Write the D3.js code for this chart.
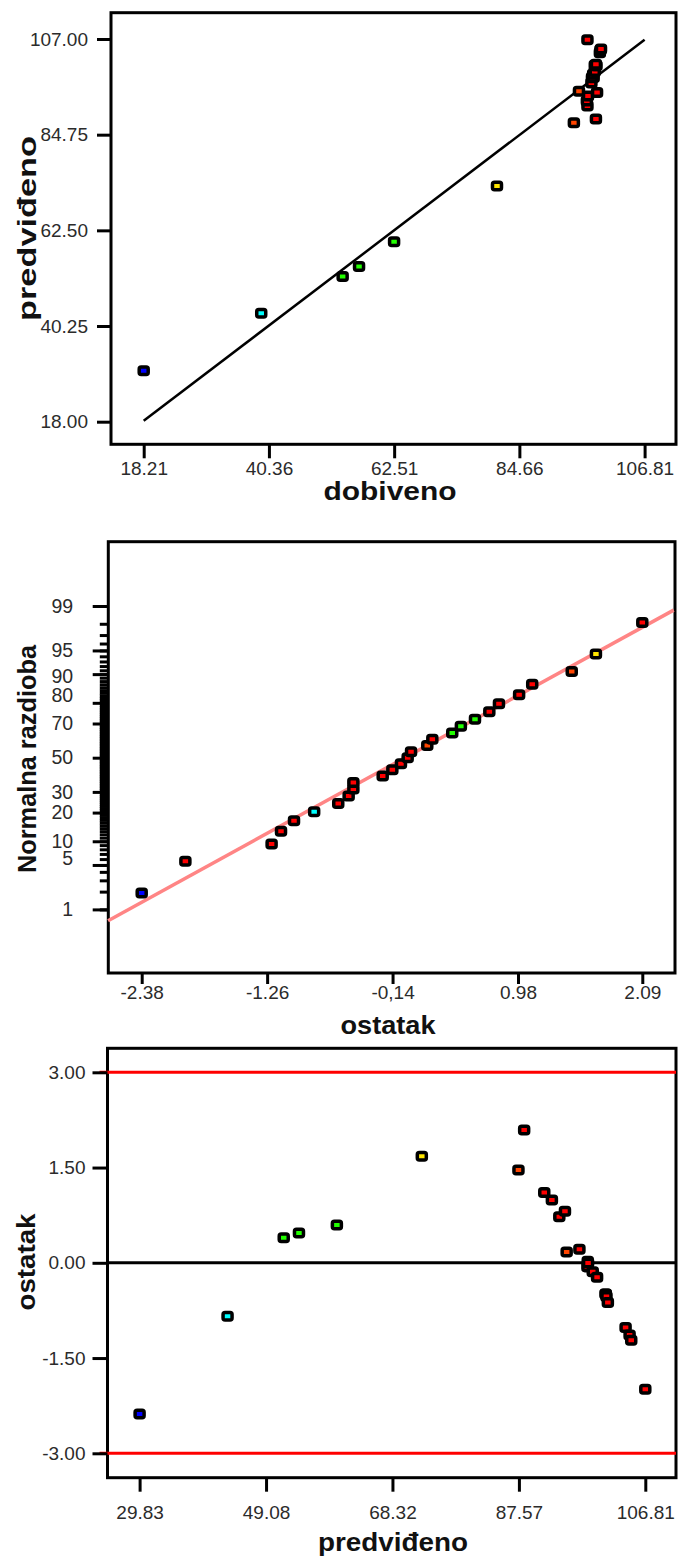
<!DOCTYPE html>
<html><head><meta charset="utf-8">
<script src="https://cdn.jsdelivr.net/npm/d3@7"></script>
<style>html,body{margin:0;padding:0;background:#fff;}svg{display:block;}</style>
</head><body>
<svg id="c" width="678" height="1557"></svg>
<script>
// ---------- DATA ----------
const pointColor = ["#0000ff","#00ffff","#22ff00","#22ff00","#22ff00","#ffe600","#ff4500","#ff0000","#ff0000","#ff0000","#ff0000","#ff0000","#ff4500","#ff0000","#ff0000","#ff0000","#ff0000","#ff0000","#ff0000","#ff0000","#ff0000","#ff0000","#ff0000","#ff0000","#ff0000","#ff0000","#ff0000"];
const actual     = [18.21,39.0,53.4,56.3,62.5,80.7,94.3,98.2,96.7,96.6,96.8,98.4,95.2,97.4,97.5,97.8,97.6,97.7,98.0,98.1,98.3,98.0,98.2,98.9,99.0,99.1,96.7];
const predicted  = [29.83,43.22,51.77,54.09,59.86,72.79,87.50,88.37,91.43,92.59,93.72,94.58,94.84,96.78,98.0,98.05,98.1,98.81,99.47,100.76,100.8,100.9,101.11,103.81,104.42,104.67,106.81];
const residual   = [-2.38,-0.84,0.393,0.47,0.596,1.676,1.46,2.09,1.107,0.99,0.724,0.81,0.17,0.215,-0.065,0.025,-0.005,-0.142,-0.228,-0.49,-0.49,-0.532,-0.625,-1.02,-1.136,-1.22,-1.99];
const normalProb = [1.9,20.4,64.8,68.5,72.2,94.4,90.7,98.1,87.0,83.3,75.9,79.6,57.4,61.1,46.3,53.7,50.0,42.6,38.9,31.5,35.2,27.8,24.1,16.7,13.0,9.3,5.6];

const p1XTicks = [18.21,40.36,62.51,84.66,106.81];
const p1XLabels = ["18.21","40.36","62.51","84.66","106.81"];
const p1YTicks = [18.00,40.25,62.50,84.75,107.00];
const p1YLabels = ["18.00","40.25","62.50","84.75","107.00"];
const p1Line = [18.21,106.81];

const p2XTicks = [-2.38,-1.26,-0.14,0.98,2.09];
const p2XLabels = ["-2.38","-1.26","-0,14","0.98","2.09"];
const p2YMajor = [1,5,10,20,30,50,70,80,90,95,99];
const p2YMinor = d3.range(1,100);
const p2FitResid = [-2.68,2.37];
const p2FitProb = [0.62,98.82];

const p3XTicks = [29.83,49.08,68.32,87.57,106.81];
const p3XLabels = ["29.83","49.08","68.32","87.57","106.81"];
const p3YTicks = [-3.00,-1.50,0.00,1.50,3.00];
const p3YLabels = ["-3.00","-1.50","0.00","1.50","3.00"];
const p3Limits = [-3.00,3.00];
const p3Zero = 0;

// ---------- HELPERS ----------
function probit(p){
  const a=[-3.969683028665376e+01,2.209460984245205e+02,-2.759285104469687e+02,1.383577518672690e+02,-3.066479806614716e+01,2.506628277459239e+00];
  const b=[-5.447609879822406e+01,1.615858368580409e+02,-1.556989798598866e+02,6.680131188771972e+01,-1.328068155288572e+01];
  const c=[-7.784894002430293e-03,-3.223964580411365e-01,-2.400758277161838e+00,-2.549732539343734e+00,4.374664141464968e+00,2.938163982698783e+00];
  const d=[7.784695709041462e-03,3.224671290700398e-01,2.445134137142996e+00,3.754408661907416e+00];
  const pl=0.02425, ph=1-pl; let q,r;
  if(p<pl){q=Math.sqrt(-2*Math.log(p));return (((((c[0]*q+c[1])*q+c[2])*q+c[3])*q+c[4])*q+c[5])/((((d[0]*q+d[1])*q+d[2])*q+d[3])*q+1);}
  if(p<=ph){q=p-0.5;r=q*q;return (((((a[0]*r+a[1])*r+a[2])*r+a[3])*r+a[4])*r+a[5])*q/(((((b[0]*r+b[1])*r+b[2])*r+b[3])*r+b[4])*r+1);}
  q=Math.sqrt(-2*Math.log(1-p));return -(((((c[0]*q+c[1])*q+c[2])*q+c[3])*q+c[4])*q+c[5])/((((d[0]*q+d[1])*q+d[2])*q+d[3])*q+1);
}

const svg = d3.select('#c');
const FONT = "'Liberation Sans', Arial, sans-serif";
const pts = pointColor.map((c,i)=>({color:c, act:actual[i], pred:predicted[i], res:residual[i], prob:normalProb[i]}));

function frame(f){
  svg.append('rect').attr('x',f.l).attr('y',f.t).attr('width',f.r-f.l).attr('height',f.b-f.t)
    .attr('fill','none').attr('stroke','#000').attr('stroke-width',3);
}
function styleAxis(g, fs){
  g.select('.domain').remove();
  g.selectAll('.tick line').attr('stroke','#000').attr('stroke-width',3);
  g.selectAll('.tick text').attr('font-family',FONT).attr('font-size',fs).attr('fill','#2b2b2b');
}
function drawPoints(data, xf, yf){
  svg.append('g').selectAll('rect').data(data).join('rect')
    .attr('x',d=>xf(d)-4.5).attr('y',d=>yf(d)-3.75).attr('width',9).attr('height',7.5)
    .attr('rx',2).attr('fill',d=>d.color).attr('stroke','#000').attr('stroke-width',3.5);
}
function title(txt, x, y, len, rot, fs){
  const t = svg.append('text').text(txt).attr('font-family',FONT).attr('font-weight','bold')
    .attr('font-size',fs||24).attr('text-anchor','middle').attr('fill','#111');
  if(len) t.attr('textLength',len).attr('lengthAdjust','spacingAndGlyphs');
  if(rot) t.attr('transform',`translate(${x},${y}) rotate(-90)`);
  else t.attr('x',x).attr('y',y);
}

// ---------- PANEL 1 ----------
const f1 = {l:111, t:12.7, r:676, b:444.3};
frame(f1);
const x1 = d3.scaleLinear().domain([18.21,106.81]).range([143.7,644.6]);
const y1 = d3.scaleLinear().domain([18,107]).range([421.7,39]);
svg.append('line').attr('x1',x1(p1Line[0])).attr('y1',y1(p1Line[0])).attr('x2',x1(p1Line[1])).attr('y2',y1(p1Line[1]))
  .attr('stroke','#000').attr('stroke-width',2.5);
drawPoints(pts, d=>x1(d.act), d=>y1(d.pred));
let g = svg.append('g').attr('transform',`translate(${f1.l},0)`)
  .call(d3.axisLeft(y1).tickValues(p1YTicks).tickFormat((d,i)=>p1YLabels[i]).tickSize(14).tickPadding(9));
styleAxis(g,19);
g = svg.append('g').attr('transform',`translate(0,${f1.b})`)
  .call(d3.axisBottom(x1).tickValues(p1XTicks).tickFormat((d,i)=>p1XLabels[i]).tickSize(14).tickPadding(3));
styleAxis(g,19);
title('dobiveno', 390, 500, 133, false, 25);
title('predviđeno', 36, 228.5, 185, true, 25);

// ---------- PANEL 2 ----------
const f2 = {l:108.3, t:541.7, r:675, b:973};
frame(f2);
const x2 = d3.scaleLinear().domain([-2.38,2.09]).range([141.7,642.3]);
const z2 = d3.scaleLinear().domain([probit(0.01),probit(0.99)]).range([909.4,606]);
const y2 = p => z2(probit(p/100));
svg.append('line').attr('x1',x2(p2FitResid[0])).attr('y1',y2(p2FitProb[0])).attr('x2',x2(p2FitResid[1])).attr('y2',y2(p2FitProb[1]))
  .attr('stroke','#ff8585').attr('stroke-width',3.5);
drawPoints(pts.slice().sort((a,b)=>a.prob-b.prob), d=>x2(d.res), d=>y2(d.prob));
g = svg.append('g').attr('transform',`translate(${f2.l},0)`)
  .call(d3.axisLeft(z2).tickValues(p2YMinor.map(p=>probit(p/100))).tickFormat('').tickSize(8.5));
styleAxis(g,19);
g.selectAll('.tick line').attr('stroke-width',3);
g = svg.append('g').attr('transform',`translate(${f2.l},0)`)
  .call(d3.axisLeft(z2).tickValues(p2YMajor.map(p=>probit(p/100))).tickFormat((d,i)=>String(p2YMajor[i])).tickSize(15.6).tickPadding(19.5));
styleAxis(g,19.5);
const nudge = {90:2.5, 80:-8, 5:-6.5};
g.selectAll('.tick text').attr('y',(d,i)=>nudge[p2YMajor[i]]||0);
g = svg.append('g').attr('transform',`translate(0,${f2.b})`)
  .call(d3.axisBottom(x2).tickValues(p2XTicks).tickFormat((d,i)=>p2XLabels[i]).tickSize(11).tickPadding(1.5));
styleAxis(g,19);
title('ostatak', 388, 1034, 95, false, 25);
title('Normalna razdioba', 36, 759, 228, true, 25);

// ---------- PANEL 3 ----------
const f3 = {l:107.5, t:1048.3, r:676, b:1477.7};
frame(f3);
const x3 = d3.scaleLinear().domain([29.83,106.81]).range([139.6,645.3]);
const y3 = d3.scaleLinear().domain([-3,3]).range([1453.3,1072.3]);
svg.append('g').selectAll('line').data(p3Limits).join('line')
  .attr('x1',f3.l-8).attr('x2',f3.r).attr('y1',d=>y3(d)).attr('y2',d=>y3(d))
  .attr('stroke','#ff0000').attr('stroke-width',3);
svg.append('line').attr('x1',f3.l).attr('x2',f3.r).attr('y1',y3(p3Zero)).attr('y2',y3(p3Zero))
  .attr('stroke','#000').attr('stroke-width',3);
drawPoints(pts, d=>x3(d.pred), d=>y3(d.res));
g = svg.append('g').attr('transform',`translate(${f3.l},0)`)
  .call(d3.axisLeft(y3).tickValues(p3YTicks).tickFormat((d,i)=>p3YLabels[i]).tickSize(15).tickPadding(7));
styleAxis(g,19);
g = svg.append('g').attr('transform',`translate(0,${f3.b})`)
  .call(d3.axisBottom(x3).tickValues(p3XTicks).tickFormat((d,i)=>p3XLabels[i]).tickSize(14).tickPadding(14));
styleAxis(g,19);
title('predviđeno', 393, 1551, 150, false, 25);
title('ostatak', 35, 1262, 97, true, 25);
</script>
</body></html>
